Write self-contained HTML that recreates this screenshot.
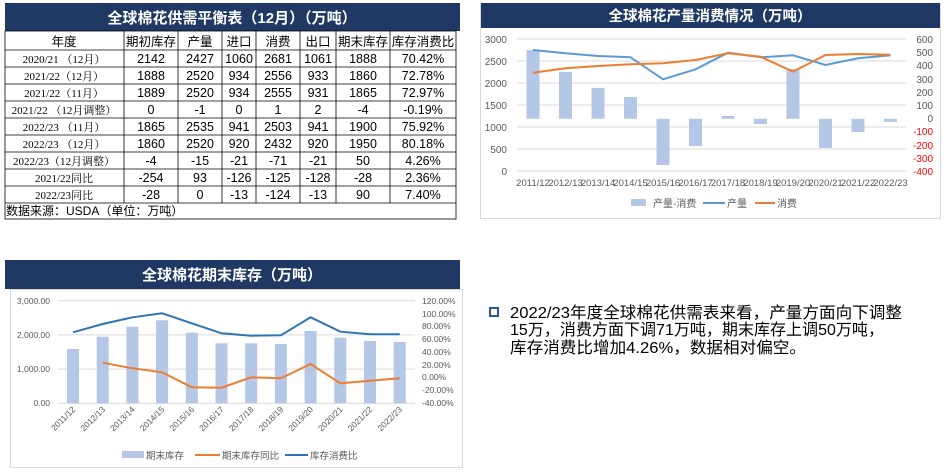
<!DOCTYPE html>
<html><head><meta charset="utf-8"><style>
body{margin:0;background:#fff;}
svg{display:block;font-family:"Liberation Sans","Noto Sans CJK SC",sans-serif;}
</style></head><body>
<svg width="944" height="473" viewBox="0 0 944 473" xmlns="http://www.w3.org/2000/svg">
<!-- TABLE -->
<rect x="5" y="3" width="455" height="28" fill="#1f3864"/>
<text x="232" y="23" fill="#fff" font-size="15" font-weight="bold" text-anchor="middle">全球棉花供需平衡表（12月）（万吨）</text>
<g stroke="#000" stroke-width="0.8" fill="none">
<rect x="5" y="31" width="451" height="188"/>
<line x1="5" y1="50" x2="456" y2="50"/><line x1="5" y1="67" x2="456" y2="67"/><line x1="5" y1="84" x2="456" y2="84"/><line x1="5" y1="101" x2="456" y2="101"/><line x1="5" y1="118" x2="456" y2="118"/><line x1="5" y1="135" x2="456" y2="135"/><line x1="5" y1="152" x2="456" y2="152"/><line x1="5" y1="169" x2="456" y2="169"/><line x1="5" y1="186" x2="456" y2="186"/><line x1="5" y1="203" x2="456" y2="203"/>
<line x1="124" y1="31" x2="124" y2="203"/><line x1="178" y1="31" x2="178" y2="203"/><line x1="222" y1="31" x2="222" y2="203"/><line x1="256" y1="31" x2="256" y2="203"/><line x1="300" y1="31" x2="300" y2="203"/><line x1="336" y1="31" x2="336" y2="203"/><line x1="390" y1="31" x2="390" y2="203"/>
</g>
<g font-size="12.5" text-anchor="middle" fill="#000">
<text x="64" y="46">年度</text><text x="151" y="46">期初库存</text><text x="200" y="46">产量</text><text x="239" y="46">进口</text><text x="278" y="46">消费</text><text x="318" y="46">出口</text><text x="363" y="46">期末库存</text><text x="423" y="46">库存消费比</text>
</g>
<g font-size="11" text-anchor="middle" font-family="Liberation Serif,'Noto Serif CJK SC',serif">
<text x="64" y="63">2020/21 （12月）</text><text x="64" y="80">2021/22（12月）</text><text x="64" y="97">2021/22（11月）</text><text x="64" y="114">2021/22 （12月调整）</text><text x="64" y="131">2022/23 （11月）</text><text x="64" y="148">2022/23 （12月）</text><text x="64" y="165">2022/23（12月调整）</text><text x="64" y="182">2021/22同比</text><text x="64" y="199">2022/23同比</text>
</g>
<g font-size="12.5" text-anchor="middle">
<text x="151" y="63">2142</text><text x="200" y="63">2427</text><text x="239" y="63">1060</text><text x="278" y="63">2681</text><text x="318" y="63">1061</text><text x="363" y="63">1888</text><text x="423" y="63">70.42%</text>
<text x="151" y="80">1888</text><text x="200" y="80">2520</text><text x="239" y="80">934</text><text x="278" y="80">2556</text><text x="318" y="80">933</text><text x="363" y="80">1860</text><text x="423" y="80">72.78%</text>
<text x="151" y="97">1889</text><text x="200" y="97">2520</text><text x="239" y="97">934</text><text x="278" y="97">2555</text><text x="318" y="97">931</text><text x="363" y="97">1865</text><text x="423" y="97">72.97%</text>
<text x="151" y="114">0</text><text x="200" y="114">-1</text><text x="239" y="114">0</text><text x="278" y="114">1</text><text x="318" y="114">2</text><text x="363" y="114">-4</text><text x="423" y="114">-0.19%</text>
<text x="151" y="131">1865</text><text x="200" y="131">2535</text><text x="239" y="131">941</text><text x="278" y="131">2503</text><text x="318" y="131">941</text><text x="363" y="131">1900</text><text x="423" y="131">75.92%</text>
<text x="151" y="148">1860</text><text x="200" y="148">2520</text><text x="239" y="148">920</text><text x="278" y="148">2432</text><text x="318" y="148">920</text><text x="363" y="148">1950</text><text x="423" y="148">80.18%</text>
<text x="151" y="165">-4</text><text x="200" y="165">-15</text><text x="239" y="165">-21</text><text x="278" y="165">-71</text><text x="318" y="165">-21</text><text x="363" y="165">50</text><text x="423" y="165">4.26%</text>
<text x="151" y="182">-254</text><text x="200" y="182">93</text><text x="239" y="182">-126</text><text x="278" y="182">-125</text><text x="318" y="182">-128</text><text x="363" y="182">-28</text><text x="423" y="182">2.36%</text>
<text x="151" y="199">-28</text><text x="200" y="199">0</text><text x="239" y="199">-13</text><text x="278" y="199">-124</text><text x="318" y="199">-13</text><text x="363" y="199">90</text><text x="423" y="199">7.40%</text>
</g>
<text x="6" y="215" font-size="12">数据来源：USDA（单位：万吨）</text>

<!-- TOP RIGHT CHART -->
<rect x="480.5" y="3.5" width="460" height="215" fill="#fff" stroke="#d9d9d9"/>
<rect x="481" y="3" width="459" height="25" fill="#1f3864"/>
<text x="710" y="21" fill="#fff" font-size="14.5" font-weight="bold" text-anchor="middle">全球棉花产量消费情况（万吨）</text>
<g stroke="#d9d9d9" stroke-width="1">
<line x1="517" y1="39" x2="906" y2="39"/><line x1="517" y1="61" x2="906" y2="61"/><line x1="517" y1="83" x2="906" y2="83"/><line x1="517" y1="105" x2="906" y2="105"/><line x1="517" y1="127" x2="906" y2="127"/><line x1="517" y1="149" x2="906" y2="149"/><line x1="517" y1="171" x2="906" y2="171"/>
</g>
<g font-size="10" fill="#595959" text-anchor="end">
<text x="507" y="43">3000</text><text x="507" y="65">2500</text><text x="507" y="87">2000</text><text x="507" y="109">1500</text><text x="507" y="131">1000</text><text x="507" y="153">500</text><text x="507" y="175">0</text>
</g>
<g font-size="10" text-anchor="end">
<text x="933" y="43" fill="#595959">600</text><text x="933" y="56" fill="#595959">500</text><text x="933" y="69" fill="#595959">400</text><text x="933" y="83" fill="#595959">300</text><text x="933" y="96" fill="#595959">200</text><text x="933" y="109" fill="#595959">100</text><text x="933" y="122" fill="#595959">0</text>
<text x="933" y="135" fill="#ff0000">-100</text><text x="933" y="149" fill="#ff0000">-200</text><text x="933" y="162" fill="#ff0000">-300</text><text x="933" y="175" fill="#ff0000">-400</text>
</g>
<g fill="#b4c7e7">
<rect x="526.5" y="50" width="13" height="68.8"/><rect x="559" y="72" width="13" height="46.8"/><rect x="591.5" y="88" width="13" height="30.8"/><rect x="624" y="97" width="13" height="21.8"/><rect x="656.5" y="118.8" width="13" height="46.2"/><rect x="689" y="118.8" width="13" height="27.2"/><rect x="721.5" y="116" width="13" height="2.8"/><rect x="754" y="118.8" width="13" height="5.2"/><rect x="786.5" y="69" width="13" height="49.8"/><rect x="819" y="118.8" width="13" height="29.2"/><rect x="851.5" y="118.8" width="13" height="13.2"/><rect x="884" y="118.8" width="13" height="3.2"/>
</g>
<polyline fill="none" stroke="#5b9bd5" stroke-width="2" points="533,50 565.5,53.3 598,56 630.5,57.3 663,79.3 695.5,69.3 728,52.7 760.5,57.3 793,55.3 825.5,65 858,58.3 890.5,55.3"/>
<polyline fill="none" stroke="#ed7d31" stroke-width="2" points="533,72.7 565.5,68.3 598,66 630.5,64.3 663,63.3 695.5,60 728,53.3 760.5,56.7 793,71.7 825.5,55 858,54 890.5,54.7"/>
<g font-size="9.5" fill="#595959" text-anchor="middle">
<text x="533" y="186">2011/12</text><text x="565.5" y="186">2012/13</text><text x="598" y="186">2013/14</text><text x="630.5" y="186">2014/15</text><text x="663" y="186">2015/16</text><text x="695.5" y="186">2016/17</text><text x="728" y="186">2017/18</text><text x="760.5" y="186">2018/19</text><text x="793" y="186">2019/20</text><text x="825.5" y="186">2020/21</text><text x="858" y="186">2021/22</text><text x="890.5" y="186">2022/23</text>
</g>
<rect x="631" y="199" width="15" height="7" fill="#b4c7e7"/>
<text x="653" y="207" font-size="10" fill="#595959">产量-消费</text>
<line x1="703" y1="203" x2="725" y2="203" stroke="#5b9bd5" stroke-width="2"/>
<text x="727" y="207" font-size="10" fill="#595959">产量</text>
<line x1="755" y1="203" x2="775" y2="203" stroke="#ed7d31" stroke-width="2"/>
<text x="777" y="207" font-size="10" fill="#595959">消费</text>

<!-- BOTTOM LEFT CHART -->
<rect x="10.5" y="289.5" width="452" height="178" fill="#fff" stroke="#d9d9d9"/>
<rect x="5" y="260" width="455" height="29" fill="#1f3864"/>
<text x="232" y="280" fill="#fff" font-size="15" font-weight="bold" text-anchor="middle">全球棉花期末库存（万吨）</text>
<g stroke="#d9d9d9">
<line x1="58" y1="300.7" x2="415" y2="300.7"/><line x1="58" y1="334.9" x2="415" y2="334.9"/><line x1="58" y1="369.1" x2="415" y2="369.1"/><line x1="58" y1="403.3" x2="415" y2="403.3"/>
</g>
<g font-size="8.5" fill="#595959" text-anchor="end">
<text x="50" y="304">3,000.00</text><text x="50" y="338">2,000.00</text><text x="50" y="372">1,000.00</text><text x="50" y="406">0.00</text>
</g>
<g font-size="8.5" fill="#595959">
<text x="422" y="304">120.00%</text><text x="422" y="317">100.00%</text><text x="422" y="329">80.00%</text><text x="422" y="342">60.00%</text><text x="422" y="355">40.00%</text><text x="422" y="368">20.00%</text><text x="422" y="380">0.00%</text><text x="422" y="393">-20.00%</text><text x="422" y="406">-40.00%</text>
</g>
<g fill="#b4c7e7">
<rect x="67" y="349" width="12" height="54.3"/><rect x="96.7" y="336.7" width="12" height="66.6"/><rect x="126.4" y="326.7" width="12" height="76.6"/><rect x="156.1" y="320.3" width="12" height="83"/><rect x="185.8" y="332.7" width="12" height="70.6"/><rect x="215.5" y="343.3" width="12" height="60"/><rect x="245.2" y="343.3" width="12" height="60"/><rect x="274.9" y="344" width="12" height="59.3"/><rect x="304.6" y="331" width="12" height="72.3"/><rect x="334.3" y="337.7" width="12" height="65.6"/><rect x="364" y="341" width="12" height="62.3"/><rect x="393.7" y="342" width="12" height="61.3"/>
</g>
<polyline fill="none" stroke="#2e75b6" stroke-width="2" points="73,332.3 102.7,324 132.4,317.3 162.1,313.3 191.8,323.3 221.5,333.3 251.2,335.7 280.9,335.3 310.6,317.3 340.3,331.7 370,334.3 399.7,334.3"/>
<polyline fill="none" stroke="#ed7d31" stroke-width="2" points="102.7,362.7 132.4,368.3 162.1,372.3 191.8,387.3 221.5,387.7 251.2,377.3 280.9,378.3 310.6,364 340.3,383.3 370,380.7 399.7,378.3"/>
<g font-size="8.5" fill="#595959" text-anchor="end">
<text transform="translate(76,410) rotate(-45)">2011/12</text><text transform="translate(105.7,410) rotate(-45)">2012/13</text><text transform="translate(135.4,410) rotate(-45)">2013/14</text><text transform="translate(165.1,410) rotate(-45)">2014/15</text><text transform="translate(194.8,410) rotate(-45)">2015/16</text><text transform="translate(224.5,410) rotate(-45)">2016/17</text><text transform="translate(254.2,410) rotate(-45)">2017/18</text><text transform="translate(283.9,410) rotate(-45)">2018/19</text><text transform="translate(313.6,410) rotate(-45)">2019/20</text><text transform="translate(343.3,410) rotate(-45)">2020/21</text><text transform="translate(373,410) rotate(-45)">2021/22</text><text transform="translate(402.7,410) rotate(-45)">2022/23</text>
</g>
<rect x="122" y="451" width="22" height="7" fill="#b4c7e7"/>
<text x="146" y="459" font-size="9.5" fill="#595959">期末库存</text>
<line x1="195" y1="455" x2="220" y2="455" stroke="#ed7d31" stroke-width="2"/>
<text x="222" y="459" font-size="9.5" fill="#595959">期末库存同比</text>
<line x1="285" y1="455" x2="308" y2="455" stroke="#2e75b6" stroke-width="2"/>
<text x="310" y="459" font-size="9.5" fill="#595959">库存消费比</text>

<!-- TEXT -->
<rect x="490" y="308" width="8" height="8" fill="none" stroke="#2f5597" stroke-width="2"/>
<g font-size="16" fill="#000">
<text x="510" y="318" textLength="392" lengthAdjust="spacingAndGlyphs">2022/23年度全球棉花供需表来看，产量方面向下调整</text>
<text x="510" y="335" textLength="374" lengthAdjust="spacingAndGlyphs">15万，消费方面下调71万吨，期末库存上调50万吨，</text>
<text x="510" y="353" textLength="296" lengthAdjust="spacingAndGlyphs">库存消费比增加4.26%，数据相对偏空。</text>
</g>
</svg>
</body></html>
